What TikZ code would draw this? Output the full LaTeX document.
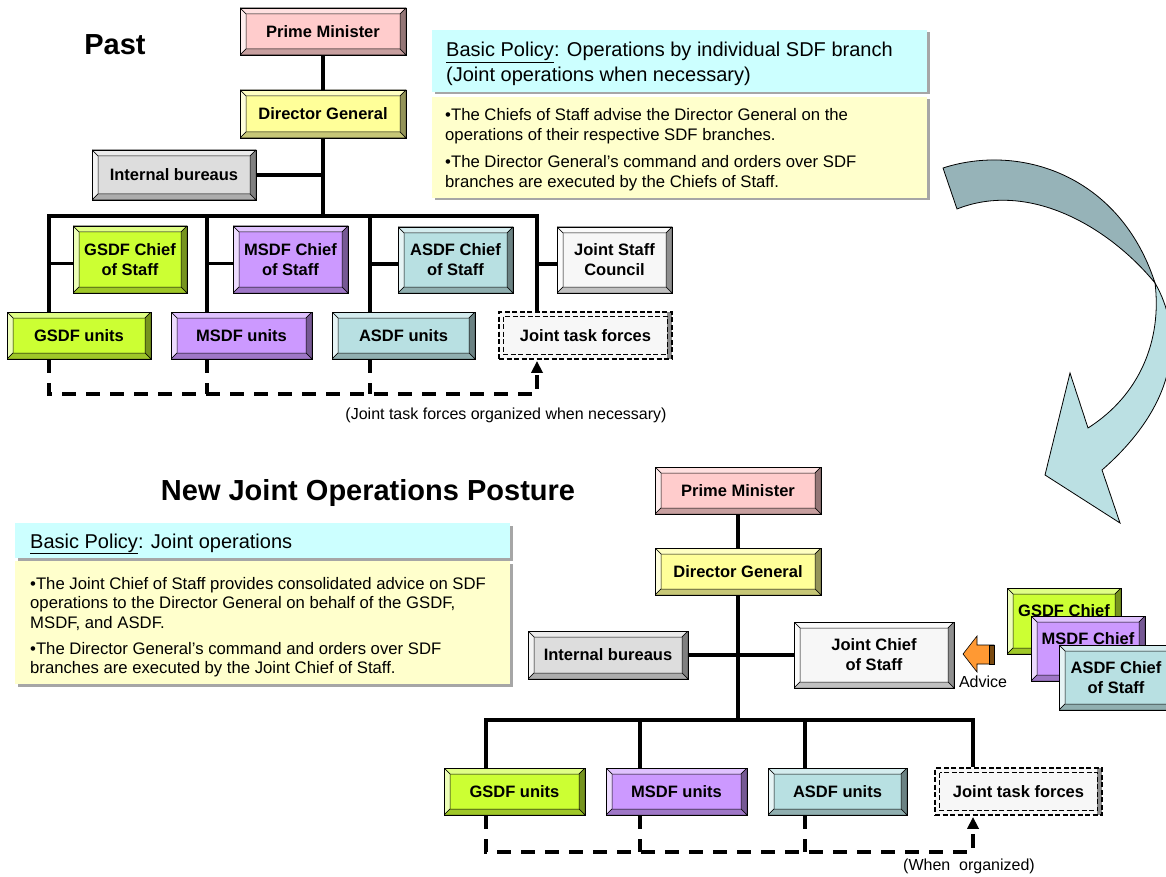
\documentclass[tikz,border=0pt]{standalone}
\usepackage{fontspec}
\setmainfont{Liberation Sans}
\usetikzlibrary{arrows.meta}
\definecolor{pmc}{HTML}{FFCCCC}
\definecolor{dgc}{HTML}{FFFF99}
\definecolor{ibc}{HTML}{DDDDDD}
\definecolor{gsc}{HTML}{CCFF33}
\definecolor{msc}{HTML}{CC99FF}
\definecolor{asc}{HTML}{B8E0E2}
\definecolor{jtc}{HTML}{F7F7F7}
\definecolor{cyanbox}{HTML}{CCFFFF}
\definecolor{yelbox}{HTML}{FFFFCC}
\definecolor{arrdark}{HTML}{96B3B8}
\definecolor{arrlight}{HTML}{BBE0E3}
\definecolor{orng}{HTML}{FF9933}
\definecolor{orngdark}{HTML}{7A4A10}
\newcommand{\bxfont}{\fontsize{16.5}{20}\selectfont\bfseries}
\newcommand{\infofont}{\fontsize{16.7}{20}\selectfont}
\newcommand{\hdfont}{\fontsize{20}{25}\selectfont}
\newcommand{\capfont}{\fontsize{16}{19}\selectfont}
\newcommand{\ttlfont}{\fontsize{29}{34}\selectfont\bfseries}
\tikzset{
 bevel/.style={rectangle, draw=black, line width=0.9pt, fill=#1, inner sep=0pt, align=center, font=\bxfont,
  path picture={
   \path (path picture bounding box.north west) coordinate (pA)
         (path picture bounding box.north east) coordinate (pB)
         (path picture bounding box.south east) coordinate (pC)
         (path picture bounding box.south west) coordinate (pD);
   \path ([shift={(6pt,-6pt)}]pA) coordinate (qA)
         ([shift={(-6pt,-6pt)}]pB) coordinate (qB)
         ([shift={(-6pt,6pt)}]pC) coordinate (qC)
         ([shift={(6pt,6pt)}]pD) coordinate (qD);
   \filldraw[draw=black, line width=0.5pt, fill=#1!60!white] (pA) -- (pB) -- (qB) -- (qA) -- cycle;
   \filldraw[draw=black, line width=0.5pt, fill=#1!35!white] (pA) -- (qA) -- (qD) -- (pD) -- cycle;
   \filldraw[draw=black, line width=0.5pt, fill=#1!58!black] (pB) -- (pC) -- (qC) -- (qB) -- cycle;
   \filldraw[draw=black, line width=0.5pt, fill=#1!78!black] (pD) -- (qD) -- (qC) -- (pC) -- cycle;
  }},
 jtfbox/.style={rectangle, fill=jtc, draw=black, line width=1.5pt, dash pattern=on 5pt off 2.5pt, inner sep=0pt, font=\bxfont,
  path picture={
   \fill[black!45] ([xshift=-5pt]path picture bounding box.north east) rectangle (path picture bounding box.south east);
   \draw[line width=1.5pt, dash pattern=on 5pt off 2.5pt] ([shift={(4.5pt,-4.5pt)}]path picture bounding box.north west) rectangle ([shift={(-4.5pt,4.5pt)}]path picture bounding box.south east);
  }},
 conn/.style={line width=3.5pt},
 dconn/.style={line width=3.5pt, dash pattern=on 14pt off 10pt},
 infotxt/.style={anchor=base west, inner sep=0pt, font=\infofont},
 hdtxt/.style={anchor=base west, inner sep=0pt, font=\hdfont},
 captxt/.style={anchor=base, inner sep=0pt, font=\capfont},
 shadow/.style={fill=black!35},
}
\begin{document}
\begin{tikzpicture}[x=1pt,y=-1pt]
\path[use as bounding box] (0,0) rectangle (1166,877);
\fill[white] (0,0) rectangle (1166,877);
\begin{scope}
\clip (0,0) rectangle (1166,877);

% ---------- headings ----------
\node[inner sep=0pt, font=\ttlfont] (past) at (115,45) {Past};
\node[inner sep=0pt, font=\ttlfont, anchor=base] (newpost) at (368,500) {New Joint Operations Posture};

% ---------- top policy boxes ----------
\fill[shadow] (434.5,32.5) rectangle (929.5,94.5);
\fill[cyanbox] (432,30) rectangle (927,92);
\fill[shadow] (434.5,99.5) rectangle (929.5,200.5);
\fill[yelbox] (432,97) rectangle (927,198);
\node[hdtxt] (h1a) at (446,57) {\underline{Basic Policy}: Operations by individual SDF branch};
\node[hdtxt] (h1b) at (446,82) {(Joint operations when necessary)};
\node[infotxt] (t1a) at (445,121) {•The Chiefs of Staff advise the Director General on the};
\node[infotxt] (t1b) at (445,140.5) {operations of their respective SDF branches.};
\node[infotxt] (t1c) at (445,168) {•The Director General’s command and orders over SDF};
\node[infotxt] (t1d) at (445,187.5) {branches are executed by the Chiefs of Staff.};

% ---------- bottom policy boxes ----------
\fill[shadow] (17.5,525.5) rectangle (512.5,560.5);
\fill[cyanbox] (15,523) rectangle (510,558);
\fill[shadow] (17.5,563.5) rectangle (512.5,686.5);
\fill[yelbox] (15,561) rectangle (510,684);
\node[hdtxt] (h2a) at (30,548) {\underline{Basic Policy}: Joint operations};
\node[infotxt] (t2a) at (30,589) {•The Joint Chief of Staff provides consolidated advice on SDF};
\node[infotxt] (t2b) at (30,608.5) {operations to the Director General on behalf of the GSDF,};
\node[infotxt] (t2c) at (30,628) {MSDF, and ASDF.};
\node[infotxt] (t2d) at (30,654) {•The Director General’s command and orders over SDF};
\node[infotxt] (t2e) at (30,673.5) {branches are executed by the Joint Chief of Staff.};

% ---------- curved arrow ----------
\filldraw[fill=arrdark, draw=black, line width=0.8pt]
  (943,168) .. controls (1020,143) and (1120,175) .. (1155,283)
  .. controls (1110,228) and (1030,180) .. (957,209) -- cycle;
\filldraw[fill=arrlight, draw=black, line width=0.8pt]
  (1155,283) .. controls (1182,330) and (1182,400) .. (1102,470)
  -- (1120,523) -- (1045,475) -- (1070,373) -- (1088,428)
  .. controls (1140,395) and (1162,340) .. (1155,283) -- cycle;

% ---------- top chart ----------
\coordinate (b1) at (49,216);
\coordinate (b2) at (207,216);
\coordinate (b3) at (370,216);
\coordinate (b4) at (537,216);
\coordinate (t0) at (323,216);
\coordinate (d1) at (0,394);

\node[bevel=pmc, minimum width=166pt, minimum height=47pt] (pm1) at (323,31.5) {Prime Minister};
\node[bevel=dgc, minimum width=166pt, minimum height=48pt] (dg1) at (323,114) {Director General};
\node[bevel=ibc, minimum width=164pt, minimum height=50pt] (ib1) at (174,175) {Internal bureaus};
\node[bevel=gsc, minimum width=114pt, minimum height=67pt] (gc1) at (130,259.5) {GSDF Chief\\of Staff};
\node[bevel=msc, minimum width=115pt, minimum height=67pt] (mc1) at (290.5,259.5) {MSDF Chief\\of Staff};
\node[bevel=asc, minimum width=115pt, minimum height=66pt] (ac1) at (455.5,260) {ASDF Chief\\of Staff};
\node[bevel=jtc, minimum width=115pt, minimum height=66pt] (jsc) at (614.5,260) {Joint Staff\\Council};
\node[bevel=gsc, minimum width=144pt, minimum height=47pt] (gu1) at (79,335.5) {GSDF units};
\node[bevel=msc, minimum width=141pt, minimum height=47pt] (mu1) at (241.5,335.5) {MSDF units};
\node[bevel=asc, minimum width=143pt, minimum height=47pt] (au1) at (403.5,335.5) {ASDF units};
\node[jtfbox, minimum width=173pt, minimum height=47pt] (jtf1) at (585.5,335.5) {Joint task forces};

\draw[conn] (pm1.south) -- (dg1.north);
\draw[conn] (dg1.south) -- (t0);
\draw[conn] (ib1.east) -- (ib1.east -| t0);
\draw[conn] (b1 |- gu1.north) -- (b1) -- (b4) -- (b4 |- jtf1.north);
\draw[conn] (b2) -- (b2 |- mu1.north);
\draw[conn] (b3) -- (b3 |- au1.north);
\draw[conn] ([yshift=-4pt]gc1.west) coordinate (s1) -- (s1 -| b1);
\draw[conn] ([yshift=-4pt]mc1.west) coordinate (s2) -- (s2 -| b2);
\draw[conn] ([yshift=-4pt]ac1.west) coordinate (s3) -- (s3 -| b3);
\draw[conn] ([yshift=-4pt]jsc.west) coordinate (s4) -- (s4 -| b4);
\draw[dconn] (b1 |- gu1.south) -- (b1 |- d1) -- (b4 |- d1) -- ([yshift=-10pt]b4 |- jtf1.south);
\fill ([yshift=-1.5pt]b4 |- jtf1.south) -- ++(-6,11.5) -- ++(12,0) -- cycle;
\draw[dconn] (b2 |- mu1.south) -- (b2 |- d1);
\draw[dconn] (b3 |- au1.south) -- (b3 |- d1);
\node[captxt] (cap1) at (506,419) {(Joint task forces organized when necessary)};

% ---------- bottom chart ----------
\coordinate (c0) at (738,720);
\coordinate (c1) at (486,720);
\coordinate (c2) at (640,720);
\coordinate (c3) at (805,720);
\coordinate (c4) at (973,720);
\coordinate (d2) at (0,852);

\node[bevel=pmc, minimum width=166pt, minimum height=47pt] (pm2) at (738,490.5) {Prime Minister};
\node[bevel=dgc, minimum width=166pt, minimum height=47pt] (dg2) at (738,571.5) {Director General};
\node[bevel=ibc, minimum width=160pt, minimum height=48pt] (ib2) at (608,655) {Internal bureaus};
\node[bevel=jtc, minimum width=160pt, minimum height=66pt] (jcs) at (874,655) {Joint Chief\\of Staff};
\node[bevel=gsc, minimum width=141pt, minimum height=47pt] (gu2) at (514.5,791.5) {GSDF units};
\node[bevel=msc, minimum width=141pt, minimum height=47pt] (mu2) at (676.5,791.5) {MSDF units};
\node[bevel=asc, minimum width=139pt, minimum height=47pt] (au2) at (837.5,791.5) {ASDF units};
\node[jtfbox, minimum width=167pt, minimum height=47pt] (jtf2) at (1018.5,791.5) {Joint task forces};

\draw[conn] (pm2.south) -- (dg2.north);
\draw[conn] (dg2.south) -- (c0);
\draw[conn] (ib2.east) -- (jcs.west);
\draw[conn] (c1 |- gu2.north) -- (c1) -- (c4) -- (c4 |- jtf2.north);
\draw[conn] (c2) -- (c2 |- mu2.north);
\draw[conn] (c3) -- (c3 |- au2.north);
\draw[dconn] (c1 |- gu2.south) -- (c1 |- d2) -- (c4 |- d2) -- ([yshift=-10pt]c4 |- jtf2.south);
\fill ([yshift=-1.5pt]c4 |- jtf2.south) -- ++(-6,11.5) -- ++(12,0) -- cycle;
\draw[dconn] (c2 |- mu2.south) -- (c2 |- d2);
\draw[dconn] (c3 |- au2.south) -- (c3 |- d2);
\node[captxt] (cap2) at (969,870) {(When~ organized)};

% ---------- advice arrow and stacked chiefs ----------
\filldraw[fill=orng, draw=black, line width=0.6pt] (963,654) -- (977,636) -- (977,645) -- (994,645) -- (994,664) -- (977,664) -- (977,672) -- cycle;
\filldraw[fill=orngdark, draw=black, line width=0.6pt] (989,645) rectangle (994,664);
\node[captxt] (adv) at (983,687) {Advice};
\node[bevel=gsc, minimum width=114pt, minimum height=66pt] (sc1) at (1064,621) {GSDF Chief\\\phantom{of Staff}};
\node[bevel=msc, minimum width=114pt, minimum height=65pt] (sc2) at (1088,648.5) {MSDF Chief\\\phantom{of Staff}};
\node[bevel=asc, minimum width=114pt, minimum height=65pt] (sc3) at (1116,677.5) {ASDF Chief\\of Staff};
\end{scope}
\end{tikzpicture}
\end{document}
